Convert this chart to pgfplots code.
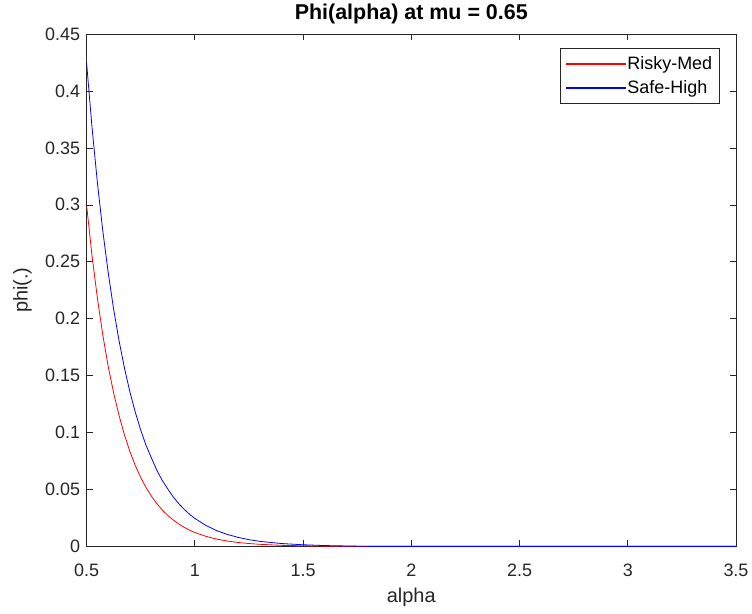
\documentclass[border=0pt]{standalone}
\usepackage{pgfplots}
\pgfplotsset{compat=1.18}
\usepackage{fontspec}
\setmainfont{Liberation Sans}
\definecolor{axgray}{rgb}{0.15,0.15,0.15}
\begin{document}
\begin{tikzpicture}
\begin{axis}[name=ax,
  scale only axis, width=649bp, height=512bp,
  xmin=0.5, xmax=3.5, ymin=0, ymax=0.45,
  xtick={0.5,1,1.5,2,2.5,3,3.5},
  ytick={0,0.05,0.1,0.15,0.2,0.25,0.3,0.35,0.4,0.45},
  yticklabels={0,0.05,0.1,0.15,0.2,0.25,0.3,0.35,0.4,0.45},
  xticklabels={0.5,1,1.5,2,2.5,3,3.5},
  tick align=inside, tick pos=both,
  major tick length=6bp,
  axis line style={axgray, line width=0.6pt},
  every tick/.style={axgray, line width=0.6pt},
  tick label style={font=\fontsize{18}{20}\selectfont, text=axgray},
  xticklabel style={anchor=north, yshift=-14bp},
  yticklabel style={anchor=east, xshift=-3bp},
  xlabel={alpha}, ylabel={phi(.)},
  label style={font=\fontsize{20}{22}\selectfont, text=axgray},
  xlabel style={at={(axis description cs:0.5,0)}, anchor=center, yshift=-51bp},
  ylabel style={at={(axis description cs:-0.0986,0.5)}, anchor=center},
  title={\bfseries Phi(alpha) at mu = 0.65},
  title style={font=\fontsize{21.5}{23}\selectfont, at={(axis description cs:0.5,1)}, anchor=center, yshift=14bp},
  legend style={font=\fontsize{18}{20}\selectfont, draw=axgray, line width=0.6pt,
    at={(rel axis cs:0.9746,0.9727)}, anchor=north east, inner xsep=5bp, inner ysep=6bp,
    row sep=6bp},
  legend cell align=left,
]
\addplot[red, line width=0.8pt,
  legend image code/.code={\fill[red] (0bp,-0.5bp) rectangle (59bp,0.5bp);}] coordinates {
(0.5,0.300) (0.525,0.2556) (0.55,0.218) (0.575,0.1857) (0.6,0.158) (0.625,0.1348)
(0.65,0.115) (0.675,0.0979) (0.7,0.0834) (0.725,0.0711) (0.75,0.0606) (0.775,0.0516)
(0.8,0.0440) (0.825,0.0375) (0.85,0.0319) (0.875,0.0272) (0.9,0.0232) (0.925,0.0198)
(0.95,0.0168) (0.975,0.0143) (1.0,0.0122) (1.05,0.0089) (1.1,0.0064) (1.15,0.0047)
(1.2,0.0034) (1.25,0.0025) (1.3,0.0018) (1.4,0.0009) (1.5,0.0005) (1.6,0.0002)
(1.8,0.0) (2.0,0.0) (2.5,0.0) (3.0,0.0) (3.5,0.0)
};
\addlegendentry{Risky-Med}
\addplot[blue, line width=0.8pt,
  legend image code/.code={\fill[blue] (0bp,-0.5bp) rectangle (59bp,0.5bp);}] coordinates {
(0.5,0.425) (0.525,0.3685) (0.55,0.3196) (0.575,0.2772) (0.6,0.2404) (0.625,0.2084)
(0.65,0.1807) (0.675,0.1567) (0.7,0.1359) (0.725,0.1179) (0.75,0.1022) (0.775,0.0886)
(0.8,0.0775) (0.825,0.0667) (0.85,0.0578) (0.875,0.0505) (0.9,0.0435) (0.925,0.0377)
(0.95,0.0327) (0.975,0.0283) (1.0,0.0246) (1.05,0.0185) (1.1,0.0139) (1.15,0.0105)
(1.2,0.0079) (1.25,0.0059) (1.3,0.0044) (1.4,0.0025) (1.5,0.0014) (1.6,0.0007)
(1.8,0.0) (2.0,0.0) (2.5,0.0) (3.0,0.0) (3.5,0.0)
};
\addlegendentry{Safe-High}
\end{axis}
\pgfresetboundingbox
\path[use as bounding box] ([xshift=-86.5bp,yshift=-67bp]ax.south west) rectangle ([xshift=16bp,yshift=34bp]ax.north east);
\end{tikzpicture}
\end{document}
